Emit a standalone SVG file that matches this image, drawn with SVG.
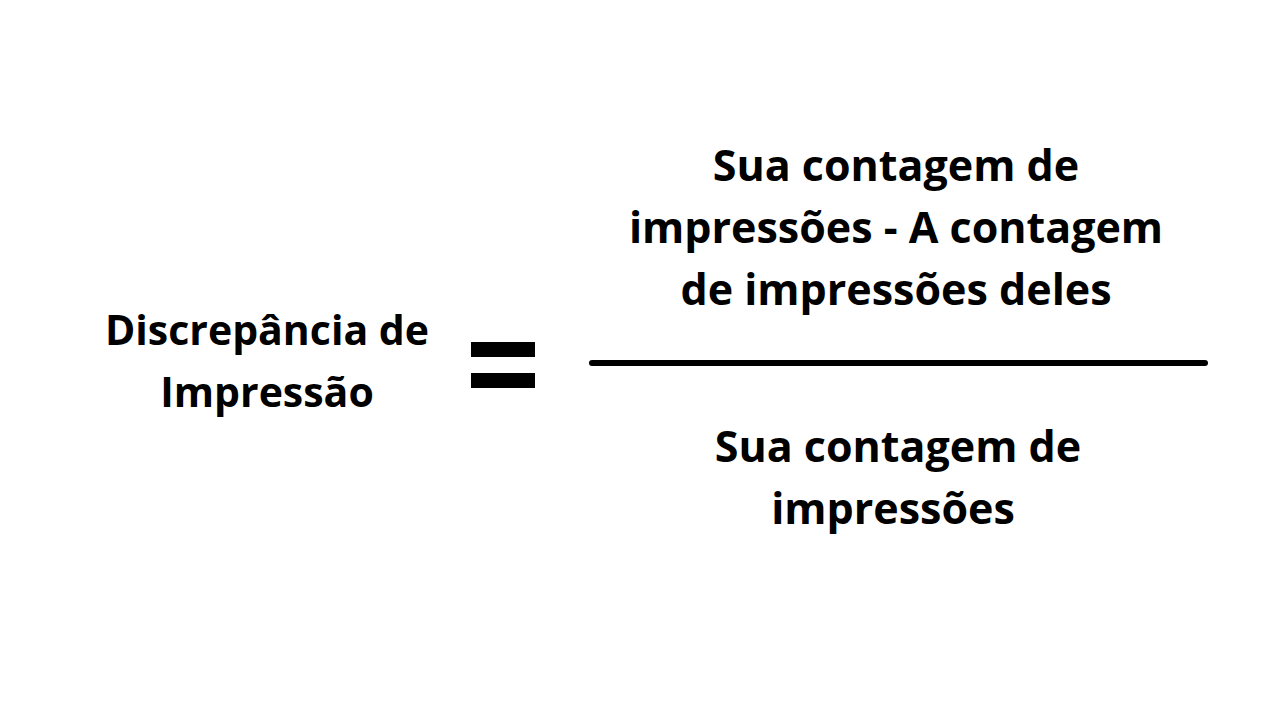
<svg xmlns="http://www.w3.org/2000/svg" width="1280" height="720" viewBox="0 0 1280 720">
<style>
text{font-family:"Open Sans","Noto Sans",sans-serif;font-weight:700;fill:#000;text-anchor:middle}
.l{font-size:41px}.r{font-size:43px}
</style>
<rect width="1280" height="720" fill="#fff"/>
<g id="lhs"><text class="l" x="267" y="345">Discrepância de</text><text class="l" x="267" y="407">Impressão</text></g>
<g id="equals" fill="#000"><rect x="471" y="342" width="64" height="15"/><rect x="471" y="373" width="64" height="15"/></g>
<g id="numerator"><text class="r" x="896" y="181">Sua contagem de</text><text class="r" x="896" y="243">impressões - A contagem</text><text class="r" x="896" y="305">de impressões deles</text></g>
<g id="connectors"><line x1="592" y1="363" x2="1205" y2="363" stroke="#000" stroke-width="6" stroke-linecap="round"/></g>
<g id="denominator"><text class="r" x="898" y="462">Sua contagem de</text><text class="r" x="893" y="524">impressões</text></g>
</svg>
